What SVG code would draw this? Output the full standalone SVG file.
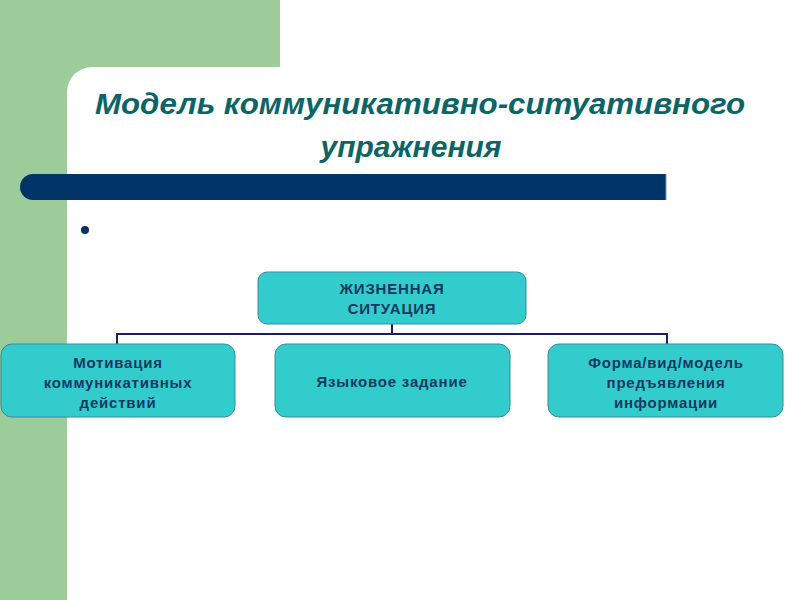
<svg xmlns="http://www.w3.org/2000/svg" width="800" height="600" viewBox="0 0 800 600">
<style>
.node rect{fill:#33CCCC;stroke:#3a8a9a;stroke-width:1}
.node text{font-family:"Liberation Sans",Arial,sans-serif;font-weight:bold;font-size:15px;letter-spacing:0.8px;fill:#123a5e;text-anchor:middle}
.title{font-family:"Liberation Sans",Arial,sans-serif;font-weight:bold;font-style:italic;font-size:30px;fill:#0b6466;text-anchor:middle}
#connectors path{fill:none;stroke:#1a1f5e;stroke-width:2}
</style>
<rect x="0" y="0" width="800" height="600" fill="#ffffff"/>
<path d="M0 0H280V67H92A25 25 0 0 0 67 92V600H0Z" fill="#9ccc9a"/>
<path d="M33 174H666V200H33A13 13 0 0 1 33 174Z" fill="#003366"/>
<line x1="666" y1="174" x2="666" y2="200" stroke="#8a9ab8" stroke-width="1"/>
<circle cx="85" cy="230" r="4" fill="#003366"/>
<text class="title" x="420" y="114" textLength="650" lengthAdjust="spacingAndGlyphs">Модель коммуникативно-ситуативного</text>
<text class="title" x="411" y="157">упражнения</text>
<g id="connectors">
<path d="M392 324V334"/>
<path d="M117 344V334H667V344"/>
</g>
<g id="n-situation" class="node">
<rect x="258" y="272" width="268" height="52" rx="9"/>
<text x="392" y="294">ЖИЗНЕННАЯ</text>
<text x="392" y="314">СИТУАЦИЯ</text>
</g>
<g id="n-motivation" class="node">
<rect x="1" y="344" width="234" height="73" rx="11"/>
<text x="118" y="368">Мотивация</text>
<text x="118" y="388">коммуникативных</text>
<text x="118" y="408">действий</text>
</g>
<g id="n-task" class="node">
<rect x="275" y="344" width="235" height="73" rx="11"/>
<text x="392" y="387">Языковое задание</text>
</g>
<g id="n-form" class="node">
<rect x="548" y="344" width="235" height="73" rx="11"/>
<text x="666" y="368">Форма/вид/модель</text>
<text x="666" y="388">предъявления</text>
<text x="666" y="408">информации</text>
</g>
</svg>
